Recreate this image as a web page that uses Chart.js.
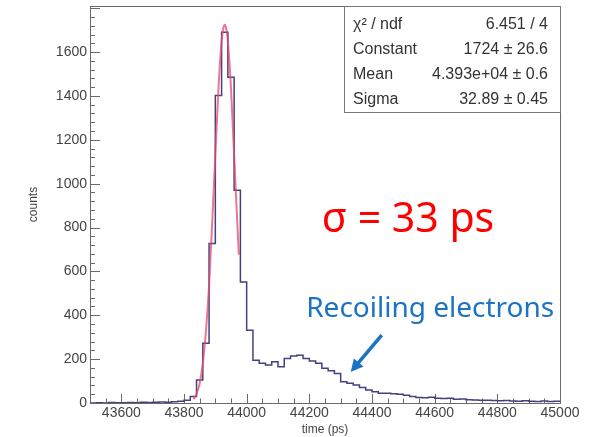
<!DOCTYPE html>
<html>
<head>
<meta charset="utf-8">
<script src="https://cdn.jsdelivr.net/npm/chart.js@4.4.1/dist/chart.umd.min.js"></script>
<style>
  html, body { margin: 0; padding: 0; background: #fff; }
  #wrap { width: 598px; height: 437px; }
</style>
</head>
<body>
<div id="wrap"><canvas id="timeChart" width="598" height="437"></canvas></div>
<script>
// Arrival time histogram, 20 ps bins starting at 43500 ps
const BIN_START = 43500;
const BIN_WIDTH = 20;
const counts = [
    0, 1, 0, 2, 1, 1, 2, 1, 3, 2,            // 43500 - 43680
    3, 4, 3, 6, 8, 12, 30, 105, 272, 727,     // 43700 - 43880
    1402, 1690, 1485, 970, 552, 332, 195, 181, 173, 188,   // 43900 - 44080
    165, 203, 214, 218, 203, 191, 181, 158, 147, 135,      // 44100 - 44280
    97, 90, 82, 71, 59, 51, 45, 44, 42, 40,   // 44300 - 44480
    35, 30, 25, 24, 26, 22, 20, 22, 17, 18,   // 44500 - 44680
    15, 14, 12, 13, 11, 10, 11, 9, 8, 10,     // 44700 - 44880
    8, 7, 9, 7, 8                             // 44900 - 44980
];

// gaus fit curve over the fit range
const fitTime = [43830, 43840, 43850, 43860, 43870, 43880, 43890, 43900, 43910, 43920,
                 43925, 43930, 43935, 43940, 43950, 43960, 43970, 43975];
const fitCounts = [17, 40, 90, 180, 327, 535, 823, 1130, 1433, 1650,
                   1705, 1724, 1705, 1650, 1433, 1130, 823, 676];

const statsRows = [
    ['χ² / ndf', '6.451 / 4'],
    ['Constant', '1724 ± 26.6'],
    ['Mean', '4.393e+04 ± 0.6'],
    ['Sigma', '32.89 ± 0.45']
];

const xTickLabels = [43600, 43800, 44000, 44200, 44400, 44600, 44800, 45000];
const yTickLabels = [0, 200, 400, 600, 800, 1000, 1200, 1400, 1600];

const X_MIN = 43500, X_MAX = 45000, Y_MAX = 1810;

// annotations, in axis units
const sigmaNote = { text: 'σ = 33 ps', at: [44240, 780] };
const recoilNote = { text: 'Recoiling electrons', at: [44190, 390] };
const recoilArrow = { from: [44431, 310], to: [44332, 141] };

const histPoints = counts.map((c, i) => ({ x: BIN_START + i * BIN_WIDTH, y: c }));
histPoints.push({ x: BIN_START + counts.length * BIN_WIDTH, y: counts[counts.length - 1] });
const fitPoints = fitTime.map((t, i) => ({ x: t, y: fitCounts[i] }));

const AXIS_FONT = 'Liberation Sans, Arial, sans-serif';

// frame + inward tick marks
const rootFrame = {
    id: 'rootFrame',
    beforeDatasetsDraw(chart) {
        const { ctx, chartArea: a, scales: { x, y } } = chart;
        ctx.save();
        ctx.strokeStyle = '#6a6a6a';
        ctx.lineWidth = 1;
        ctx.strokeRect(a.left + 0.5, a.top + 0.5, a.right - a.left, a.bottom - a.top);
        ctx.beginPath();
        for (let t = X_MIN; t <= X_MAX; t += 50) {
            const px = Math.round(x.getPixelForValue(t)) + 0.5;
            const len = t % 200 === 0 ? 9 : 4.5;
            ctx.moveTo(px, a.bottom);
            ctx.lineTo(px, a.bottom - len);
        }
        for (let v = 0; v <= Y_MAX; v += 40) {
            const py = Math.round(y.getPixelForValue(v)) + 0.5;
            const len = v % 200 === 0 ? 10 : 5;
            ctx.moveTo(a.left, py);
            ctx.lineTo(a.left + len, py);
        }
        ctx.stroke();
        ctx.restore();
    }
};

const notes = {
    id: 'notes',
    afterDraw(chart) {
        const { ctx, chartArea: a, scales: { x, y } } = chart;
        ctx.save();

        // stats box
        const bx = 344, bw = a.right - bx, bh = 106, rowH = 25;
        ctx.fillStyle = '#fff';
        ctx.fillRect(bx, a.top, bw, bh);
        ctx.strokeStyle = '#777';
        ctx.strokeRect(bx + 0.5, a.top + 0.5, bw, bh);
        ctx.fillStyle = '#333';
        ctx.font = '16px ' + AXIS_FONT;
        ctx.textBaseline = 'middle';
        statsRows.forEach((r, i) => {
            const ry = a.top + 19 + i * rowH;
            ctx.textAlign = 'left';
            ctx.fillText(r[0], bx + 9, ry);
            ctx.textAlign = 'right';
            ctx.fillText(r[1], a.right - 12, ry);
        });

        // sigma label
        ctx.textBaseline = 'alphabetic';
        ctx.textAlign = 'left';
        ctx.fillStyle = '#ff0000';
        ctx.font = '41px "Noto Sans", sans-serif';
        ctx.fillText(sigmaNote.text, x.getPixelForValue(sigmaNote.at[0]), y.getPixelForValue(sigmaNote.at[1]));

        // recoil label + arrow
        ctx.fillStyle = '#1a73c4';
        ctx.font = '28px "Noto Sans", sans-serif';
        ctx.fillText(recoilNote.text, x.getPixelForValue(recoilNote.at[0]), y.getPixelForValue(recoilNote.at[1]));

        const x0 = x.getPixelForValue(recoilArrow.from[0]), y0 = y.getPixelForValue(recoilArrow.from[1]);
        const x1 = x.getPixelForValue(recoilArrow.to[0]), y1 = y.getPixelForValue(recoilArrow.to[1]);
        const ang = Math.atan2(y1 - y0, x1 - x0);
        const head = 14;
        ctx.strokeStyle = '#1a73c4';
        ctx.lineWidth = 3.5;
        ctx.beginPath();
        ctx.moveTo(x0, y0);
        ctx.lineTo(x1 - Math.cos(ang) * head * 0.8, y1 - Math.sin(ang) * head * 0.8);
        ctx.stroke();
        ctx.beginPath();
        ctx.moveTo(x1, y1);
        ctx.lineTo(x1 - head * Math.cos(ang - 0.47), y1 - head * Math.sin(ang - 0.47));
        ctx.lineTo(x1 - head * Math.cos(ang + 0.47), y1 - head * Math.sin(ang + 0.47));
        ctx.closePath();
        ctx.fill();
        ctx.restore();
    }
};

new Chart(document.getElementById('timeChart'), {
    type: 'line',
    data: {
        datasets: [
            {
                label: 'gaus',
                data: fitPoints,
                borderColor: 'rgba(235, 70, 110, 0.75)',
                borderWidth: 2,
                pointRadius: 0,
                cubicInterpolationMode: 'monotone',
                order: 0
            },
            {
                label: 'counts',
                data: histPoints,
                stepped: 'before',
                borderColor: '#42427f',
                borderWidth: 1.5,
                pointRadius: 0,
                fill: false,
                order: 1
            }
        ]
    },
    options: {
        responsive: false,
        animation: false,
        layout: { padding: { top: 6, right: 38, left: 0, bottom: 0 } },
        plugins: { legend: { display: false }, tooltip: { enabled: false } },
        scales: {
            x: {
                type: 'linear',
                min: X_MIN,
                max: X_MAX,
                afterBuildTicks: s => { s.ticks = xTickLabels.map(v => ({ value: v })); },
                afterFit: s => { s.height = 34; },
                grid: { display: false, drawTicks: false },
                border: { display: false },
                ticks: { color: '#444', font: { family: AXIS_FONT, size: 14 }, padding: 2, maxRotation: 0, autoSkip: false,
                         callback: v => String(v) },
                title: { display: true, text: 'time (ps)', color: '#444', font: { family: AXIS_FONT, size: 12 }, padding: 0 }
            },
            y: {
                type: 'linear',
                min: 0,
                max: Y_MAX,
                afterBuildTicks: s => { s.ticks = yTickLabels.map(v => ({ value: v })); },
                afterFit: s => { s.width = 90; s.paddingTop = 0; s.paddingBottom = 0; },
                grid: { display: false, drawTicks: false },
                border: { display: false },
                ticks: { color: '#444', font: { family: AXIS_FONT, size: 14 }, padding: 3, autoSkip: false,
                         callback: v => String(v) },
                title: { display: true, text: 'counts', color: '#444', font: { family: AXIS_FONT, size: 12 }, padding: { top: 26 } }
            }
        }
    },
    plugins: [rootFrame, notes]
});
</script>
</body>
</html>
